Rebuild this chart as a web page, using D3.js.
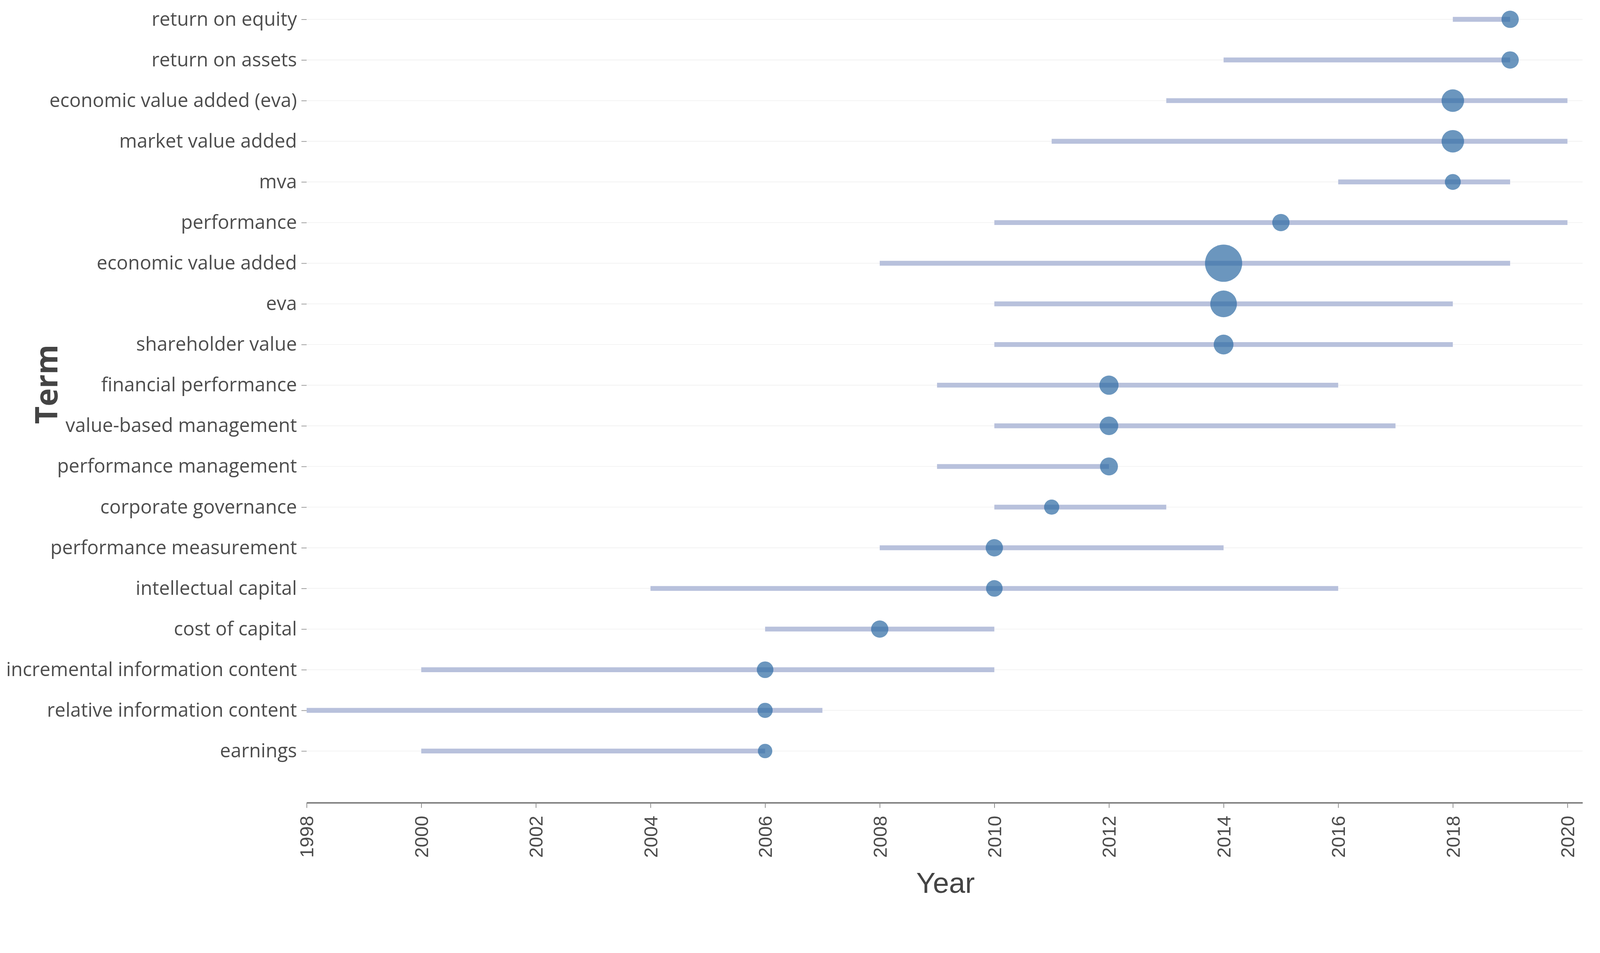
<!DOCTYPE html>
<html>
<head>
<meta charset="utf-8">
<script src="https://cdn.jsdelivr.net/npm/d3@7"></script>
<style>
  html, body { margin: 0; padding: 0; background: #fff; overflow: hidden; }
  #chart svg { display: block; width: 100vw; height: 100vh; }
  .tick text { fill: #4d4d4d; }
</style>
</head>
<body>
<div id="chart"></div>
<script>
// trend topics: first quartile year, median year, third quartile year, frequency
var terms = ["return on equity", "return on assets", "economic value added (eva)", "market value added",
  "mva", "performance", "economic value added", "eva", "shareholder value", "financial performance",
  "value-based management", "performance management", "corporate governance", "performance measurement",
  "intellectual capital", "cost of capital", "incremental information content",
  "relative information content", "earnings"];
var yearQ1 = [2018, 2014, 2013, 2011, 2016, 2010, 2008, 2010, 2010, 2009, 2010, 2009, 2010, 2008, 2004, 2006, 2000, 1998, 2000];
var yearMedian = [2019, 2019, 2018, 2018, 2018, 2015, 2014, 2014, 2014, 2012, 2012, 2012, 2011, 2010, 2010, 2008, 2006, 2006, 2006];
var yearQ3 = [2019, 2019, 2020, 2020, 2019, 2020, 2019, 2018, 2018, 2016, 2017, 2012, 2013, 2014, 2016, 2010, 2010, 2007, 2006];
var freq = [13, 13, 22, 22, 11, 13, 60, 31, 17, 16, 15, 14, 10, 13, 12, 13, 12, 10, 9];
var yearTicks = [1998, 2000, 2002, 2004, 2006, 2008, 2010, 2012, 2014, 2016, 2018, 2020];

var svgWidth = 4305;
var svgHeight = 2440;

var margin = {
    top: 0,
    right: 47,
    bottom: 280,
    left: 825
};

var width = svgWidth - margin.left - margin.right;
var height = svgHeight - margin.top - margin.bottom;

var rows = terms.map(function(t, i) {
    return { term: t, q1: yearQ1[i], median: yearMedian[i], q3: yearQ3[i], freq: freq[i] };
});

// viewBox so the drawing fills the window whatever its css size, pinned to the top
var svg = d3.select("#chart")
    .append("svg")
    .attr("viewBox", `0 0 ${svgWidth} ${svgHeight}`)
    .attr("preserveAspectRatio", "xMidYMin meet");

var chartGroup = svg.append("g")
    .attr("transform", `translate(${margin.left}, ${margin.top})`);

var xScale = d3.scaleLinear()
    .domain([1998, 1998 + width / 154.2])
    .range([0, width]);

var yScale = d3.scalePoint()
    .domain(terms)
    .range([52, 2021]);

var rScale = d3.scaleSqrt()
    .domain([0, d3.max(freq)])
    .range([0, 50]);

// light gridlines per term
chartGroup.selectAll(".grid")
    .data(terms)
    .enter()
    .append("line")
    .attr("x1", 0)
    .attr("x2", width)
    .attr("y1", d => yScale(d))
    .attr("y2", d => yScale(d))
    .attr("stroke", "#f2f2f2")
    .attr("stroke-width", 2);

var bottomAxis = d3.axisBottom(xScale)
    .tickValues(yearTicks)
    .tickFormat(d3.format("d"))
    .tickSize(14)
    .tickSizeOuter(0);

var leftAxis = d3.axisLeft(yScale)
    .tickSize(14)
    .tickPadding(12);

var xAxisG = chartGroup.append("g")
    .attr("transform", `translate(0, ${height})`)
    .call(bottomAxis);

xAxisG.select(".domain")
    .attr("stroke", "#7a7a7a")
    .attr("stroke-width", 4);
xAxisG.selectAll(".tick line")
    .attr("stroke", "#8a8a8a")
    .attr("stroke-width", 2);
xAxisG.selectAll(".tick text")
    .attr("transform", "rotate(-90)")
    .attr("x", -35)
    .attr("y", 0)
    .attr("dy", "0.35em")
    .style("text-anchor", "end")
    .style("font-family", "'Liberation Sans', Arial, sans-serif")
    .style("font-size", "51px");

var yAxisG = chartGroup.append("g")
    .call(leftAxis);

yAxisG.select(".domain").remove();
yAxisG.selectAll(".tick line")
    .attr("stroke", "#9a9a9a")
    .attr("stroke-width", 2);
yAxisG.selectAll(".tick text")
    .style("font-family", "'Open Sans', sans-serif")
    .style("font-size", "51.5px");

// range bars q1 -> q3
chartGroup.selectAll(".range")
    .data(rows)
    .enter()
    .append("line")
    .attr("x1", d => xScale(d.q1))
    .attr("x2", d => xScale(d.q3))
    .attr("y1", d => yScale(d.term))
    .attr("y2", d => yScale(d.term))
    .attr("stroke", "rgb(184,193,220)")
    .attr("stroke-width", 13);

// median year points
chartGroup.selectAll("circle")
    .data(rows)
    .enter()
    .append("circle")
    .attr("cx", d => xScale(d.median))
    .attr("cy", d => yScale(d.term))
    .attr("r", d => rScale(d.freq))
    .attr("fill", "rgb(44,105,162)")
    .attr("opacity", 0.7);

svg.append("text")
    .attr("transform", "translate(155, 1034) rotate(-90)")
    .attr("text-anchor", "middle")
    .style("font-family", "'Open Sans', sans-serif")
    .style("font-weight", "bold")
    .style("font-size", "82px")
    .style("fill", "#444")
    .text("Term");

svg.append("text")
    .attr("x", 2544)
    .attr("y", 2403)
    .attr("text-anchor", "middle")
    .style("font-family", "'Liberation Sans', Arial, sans-serif")
    .style("font-size", "78px")
    .style("fill", "#444")
    .text("Year");
</script>
</body>
</html>
